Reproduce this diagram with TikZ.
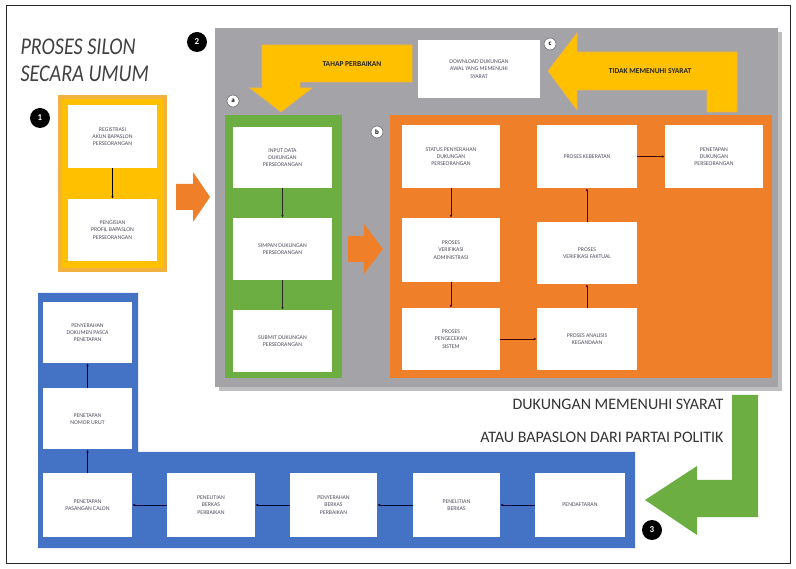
\documentclass[tikz,border=0pt]{standalone}
\usepackage{fontspec}
\setmainfont{Carlito}
\usetikzlibrary{arrows.meta}
\definecolor{cyel}{HTML}{FFC000}
\definecolor{cyelb}{HTML}{F2B240}
\definecolor{cgrn}{HTML}{6DAE43}
\definecolor{corg}{HTML}{F07F2A}
\definecolor{cblu}{HTML}{4472C4}
\definecolor{cgry}{HTML}{A4A4A8}
\definecolor{ctxt}{HTML}{505060}
\begin{document}
\begin{tikzpicture}[x=1pt,y=-1pt,
  wbox/.style={fill=white, font=\fontsize{5.8}{7.2}\selectfont, align=center, text=ctxt, inner sep=0pt},
  numc/.style={circle, fill=black, text=white, font=\bfseries\fontsize{9}{9}\selectfont, minimum size=20pt, inner sep=0pt},
  letc/.style={circle, fill=white, draw=black!70, line width=0.4pt, text=black, font=\bfseries\fontsize{7}{7}\selectfont, minimum size=12pt, inner sep=0pt},
  conn/.style={-{Latex[length=3pt,width=2.5pt]}, line width=0.8pt},
  blab/.style={font=\bfseries\fontsize{7.5}{7.5}\selectfont, text=black!85},
  bigl/.style={anchor=east, font=\fontsize{16}{16}\selectfont, text=black!80}]
\useasboundingbox (0,0) rectangle (796,569);
\draw[line width=1pt, black!85] (6,6) rectangle (790,563);

% title
\node[anchor=west, font=\itshape\fontsize{24}{24}\selectfont, text=black!75] (t1) at (17,47) {\scalebox{0.84}[1]{PROSES SILON}};
\node[anchor=west, font=\itshape\fontsize{24}{24}\selectfont, text=black!75] (t2) at (17,74) {\scalebox{0.84}[1]{SECARA UMUM}};

% grey panel
\fill[black!25] (219,32) rectangle (782,391);
\fill[cgry] (215,28) rectangle (778,387);

% yellow container 1
\draw[cyelb, line width=4pt, fill=cyel] (60,97) rectangle (165,270);
\node[wbox, minimum width=89pt, minimum height=63pt] (r1) at (112.5,136.5) {REGISTRASI\\AKUN BAPASLON\\PERSEORANGAN};
\node[wbox, minimum width=89pt, minimum height=62pt] (r2) at (112.5,230) {PENGISIAN\\PROFIL BAPASLON\\PERSEORANGAN};
\draw[conn, black] (r1) -- (r2);

% big orange arrow
\fill[corg] (176,184) -- (193,184) -- (193,172) -- (210,197) -- (193,222) -- (193,210) -- (176,210) -- cycle;

% yellow arrow TAHAP PERBAIKAN
\fill[cyel, draw=cyelb, line width=0.6pt] (412,45) -- (412,82) -- (300,82) -- (300,88) -- (312,88) -- (281,112) -- (250,88) -- (262,88) -- (262,45) -- cycle;
\node[blab] (tp) at (352,64) {TAHAP PERBAIKAN};

% box c
\node[wbox, minimum width=122pt, minimum height=58pt] (dl) at (479,69) {DOWNLOAD DUKUNGAN\\AWAL YANG MEMENUHI\\SYARAT};

% yellow arrow TIDAK MEMENUHI SYARAT
\fill[cyel, draw=cyelb, line width=0.6pt] (737,52) -- (737,112) -- (707,112) -- (707,90) -- (577,90) -- (577,110) -- (548,71) -- (577,33) -- (577,52) -- cycle;
\node[blab] (tm) at (650,71) {TIDAK MEMENUHI SYARAT};

% green container a
\fill[cgrn] (225,115) rectangle (342,378);
\node[wbox, minimum width=99pt, minimum height=61pt] (a1) at (282.5,157.5) {INPUT DATA\\DUKUNGAN\\PERSEORANGAN};
\node[wbox, minimum width=99pt, minimum height=62pt] (a2) at (282.5,249) {SIMPAN DUKUNGAN\\PERSEORANGAN};
\node[wbox, minimum width=99pt, minimum height=62pt] (a3) at (282.5,341) {SUBMIT DUKUNGAN\\PERSEORANGAN};
\draw[conn, black!85] (a1) -- (a2);
\draw[conn, black!85] (a2) -- (a3);

% small orange arrow
\fill[corg] (348,236) -- (364,236) -- (364,224) -- (383,249) -- (364,274) -- (364,262) -- (348,262) -- cycle;

% orange panel b
\fill[corg] (390,115) rectangle (772,378);
\node[wbox, minimum width=98pt, minimum height=63pt] (b1) at (451,156.5) {STATUS PENYERAHAN\\DUKUNGAN\\PERSEORANGAN};
\node[wbox, minimum width=98pt, minimum height=64pt] (b2) at (451,250) {PROSES\\VERIFIKASI\\ADMINISTRASI};
\node[wbox, minimum width=98pt, minimum height=62pt] (b3) at (451,339) {PROSES\\PENGECEKAN\\SISTEM};
\node[wbox, minimum width=100pt, minimum height=62pt] (b4) at (587,339) {PROSES ANALISIS\\KEGANDAAN};
\node[wbox, minimum width=100pt, minimum height=62pt] (b5) at (587,253) {PROSES\\VERIFIKASI FAKTUAL};
\node[wbox, minimum width=100pt, minimum height=63pt] (b6) at (587,156.5) {PROSES KEBERATAN};
\node[wbox, minimum width=98pt, minimum height=63pt] (b7) at (714,156.5) {PENETAPAN\\DUKUNGAN\\PERSEORANGAN};
\begin{scope}[black!60!red!60!black]
\draw[conn] (b1) -- (b2);
\draw[conn] (b2) -- (b3);
\draw[conn] (b3) -- (b4);
\draw[conn] (b4) -- (b5);
\draw[conn] (b5) -- (b6);
\draw[conn] (b6) -- (b7);
\end{scope}

% letter circles and number circles
\node[numc] (n1) at (40,118) {1};
\node[numc] (n2) at (197,42) {2};
\node[numc] (n3) at (652,530) {3};
\node[letc] (la) at (233,101) {a};
\node[letc] (lb) at (377,132) {b};
\node[letc] (lc) at (550,44) {c};

% labels near green arrow
\node[bigl] (l1) at (727,404) {DUKUNGAN MEMENUHI SYARAT};
\node[bigl] (l2) at (727,437) {ATAU BAPASLON DARI PARTAI POLITIK};

% green arrow
\fill[cgrn] (732,395) -- (758,395) -- (758,517) -- (697,517) -- (697,535) -- (645,500) -- (697,466) -- (697,480) -- (732,480) -- cycle;

% blue L container
\fill[cblu] (38,293) -- (138,293) -- (138,452) -- (635,452) -- (635,548) -- (38,548) -- cycle;
\node[wbox, minimum width=89pt, minimum height=61pt] (p7) at (87.5,332.5) {PENYERAHAN\\DOKUMEN PASCA\\PENETAPAN};
\node[wbox, minimum width=89pt, minimum height=61pt] (p6) at (87.5,419) {PENETAPAN\\NOMOR URUT};
\node[wbox, minimum width=89pt, minimum height=64pt] (p5) at (87.5,505) {PENETAPAN\\PASANGAN CALON};
\node[wbox, minimum width=88pt, minimum height=64pt] (p4) at (211,505) {PENELITIAN\\BERKAS\\PERBAIKAN};
\node[wbox, minimum width=87pt, minimum height=64pt] (p3) at (333.5,505) {PENYERAHAN\\BERKAS\\PERBAIKAN};
\node[wbox, minimum width=87pt, minimum height=64pt] (p2) at (456.5,505) {PENELITIAN\\BERKAS};
\node[wbox, minimum width=90pt, minimum height=64pt] (p1) at (580,505) {PENDAFTARAN};
\begin{scope}[black!50!blue!40!black]
\draw[conn] (p1) -- (p2);
\draw[conn] (p2) -- (p3);
\draw[conn] (p3) -- (p4);
\draw[conn] (p4) -- (p5);
\draw[conn] (p5) -- (p6);
\draw[conn] (p6) -- (p7);
\end{scope}
\end{tikzpicture}
\end{document}
